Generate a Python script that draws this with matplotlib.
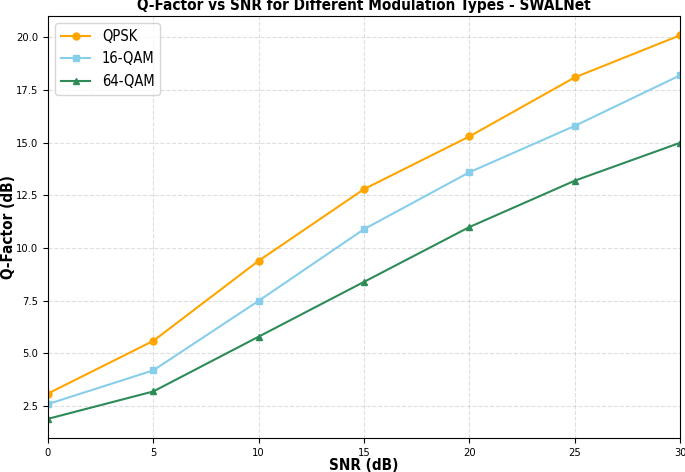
import numpy as np
import matplotlib.pyplot as plt

plt.rcParams['font.family'] = 'DejaVu Sans'
plt.rcParams['font.stretch'] = 'condensed'

# SNR values and Q-factor per modulation
snr = [0, 5, 10, 15, 20, 25, 30]
qpsk = [3.1, 5.6, 9.4, 12.8, 15.3, 18.1, 20.1]
qam16 = [2.6, 4.2, 7.5, 10.9, 13.6, 15.8, 18.2]
qam64 = [1.9, 3.2, 5.8, 8.4, 11.0, 13.2, 15.0]

fig = plt.figure(figsize=(6.85, 4.72), dpi=100)
ax = fig.add_axes([0.070, 0.072, 0.923, 0.894])

ax.plot(snr, qpsk, marker='o', color='orange', label='QPSK', markersize=5)
ax.plot(snr, qam16, marker='s', color='skyblue', label='16-QAM', markersize=5)
ax.plot(snr, qam64, marker='^', color='seagreen', label='64-QAM', markersize=5)

ax.set_xlim(0, 30)
ax.set_title('Q-Factor vs SNR for Different Modulation Types - SWALNet',
             fontsize=11, fontweight='bold', pad=4)
ax.set_xlabel('SNR (dB)', fontsize=11, fontweight='bold', labelpad=0)
ax.set_ylabel('Q-Factor (dB)', fontsize=11, fontweight='bold', labelpad=0)
ax.tick_params(labelsize=8)
ax.grid(True, linestyle='--', alpha=0.4)
ax.legend(fontsize=10.5, loc='upper left')

fig.savefig('out.png', dpi=100)
